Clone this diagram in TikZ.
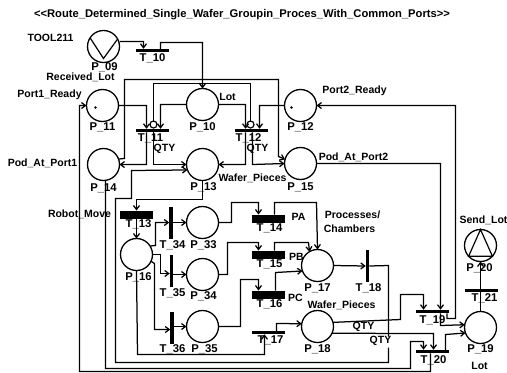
\documentclass[tikz,border=0pt]{standalone}
\usepackage{fontspec}
\setmainfont{Liberation Sans}
\usetikzlibrary{arrows.meta}
\tikzset{
  place/.style={circle,draw,line width=1.3bp,minimum size=32bp,inner sep=0pt,outer sep=0pt},
  token/.style={circle,fill=black,minimum size=2.6bp,inner sep=0pt},
  inhib/.style={circle,draw,line width=1.2bp,fill=white,minimum size=7bp,inner sep=0pt,outer sep=0pt},
  hbarthin/.style={rectangle,fill=black,minimum width=33bp,minimum height=3.5bp,inner sep=0pt,outer sep=0pt},
  hbarthick/.style={rectangle,fill=black,minimum width=33bp,minimum height=8bp,inner sep=0pt,outer sep=0pt},
  vbar/.style={rectangle,fill=black,minimum width=3.5bp,minimum height=32bp,inner sep=0pt,outer sep=0pt},
  lab/.style={font=\bfseries\fontsize{10.5bp}{12bp}\selectfont,inner sep=0pt,text=black},
  tlab/.style={font=\bfseries\fontsize{11.3bp}{12bp}\selectfont,inner sep=0pt,text=black},
  flow/.style={draw,line width=1.25bp,-{Straight Barb[length=4bp,width=6bp]}},
  plain/.style={draw,line width=1.25bp},
  sym/.style={draw,line width=1.2bp}
}
\begin{document}
\begin{tikzpicture}[x=1bp,y=-1bp]
\useasboundingbox[fill=white] (-.5,-.5) rectangle (506.5,371.5);
% places
\node[place] (P09) at (103,46) {};
\node[place] (P10) at (202,104) {};
\node[place] (P11) at (102,105) {};
\node[place] (P12) at (300,105) {};
\node[place] (P13) at (202,164) {};
\node[place] (P14) at (103,164) {};
\node[place] (P15) at (300,163) {};
\node[place] (P16) at (136,254) {};
\node[place] (P17) at (317,265) {};
\node[place] (P18) at (317,326) {};
\node[place] (P19) at (480,327) {};
\node[place] (P20) at (480,245) {};
\node[place] (P33) at (202,222) {};
\node[place] (P34) at (202,274) {};
\node[place] (P35) at (202,326) {};
\node[token] (tk11) at (95,107) {};
\node[token] (tk12) at (291,107) {};
% transitions
\node[hbarthin] (T10) at (152,50) {};
\node[hbarthin] (T11) at (151.5,130) {};
\node[hbarthin] (T12) at (250.5,130) {};
\node[hbarthick] (T13) at (136,214) {};
\node[hbarthick] (T14) at (268,218) {};
\node[hbarthick] (T15) at (268,254) {};
\node[hbarthick] (T16) at (268,294) {};
\node[hbarthin] (T17) at (268,332) {};
\node[vbar] (T18) at (367,265.5) {};
\node[hbarthin] (T19) at (431.5,311) {};
\node[hbarthin] (T20) at (431.5,351) {};
\node[hbarthin] (T21) at (481,290) {};
\node[vbar] (T34) at (170.5,222) {};
\node[vbar] (T35) at (171,270) {};
\node[vbar] (T36) at (171.5,327) {};
\node[inhib] (I11) at (153,124) {};
\node[inhib] (I12) at (250,124) {};
% symbols inside sources and sinks
\draw[sym] (P09.147) -- ([yshift=4bp]P09.south) -- (P09.28);
\draw[sym] (P20.north) -- (P20.222) -- (P20.318) -- cycle;
% connectors
\path[flow] (P09.east |- 0,41) -- (143,41) -- ([xshift=-9bp]T10.north);
\path[flow] ([xshift=8bp]T10.north) -- (160,42) -- (202,42) -- (P10.north);
\path[flow] (P11.east) -- (146,105) -- ([xshift=-5.5bp]T11.north);
\path[flow] (P10.west) -- (160,104) -- ([xshift=8.5bp]T11.north);
\path[flow] (P10.east) -- (245,104) -- ([xshift=-5.5bp]T12.north);
\path[flow] (P12.west) -- (259,105) -- ([xshift=8.5bp]T12.north);
\path[plain] (I11.north) -- (153,83) -- (250,83) -- (I12.north);
\path[flow] ([xshift=-5.5bp]T11.south) -- (146,164) -- (P14.east);
\path[flow] ([xshift=1.5bp]T11.south) -- (153,164) -- (P13.west);
\path[flow] ([xshift=-5.5bp]T12.south) -- (245,164) -- (P13.east);
\path[flow] ([xshift=1.5bp]T12.south) -- (252,164) -- (P15.west);
\path[flow] (P14.20) -- (124,158) -- (124,79) -- (278,79) -- (278,156) -- (P15.165);
\path[flow] (P13.south) -- (202,199) -- (136,199) -- (T13.north);
\path[flow] (T13.south) -- (P16.north);
\path[flow] (P16.32) -- (155,245) -- (155,222) -- (T34.west);
\path[flow] (P16.east) -- (160,254) -- (160,273) -- (T35.west |- 0,273);
\path[flow] (P16.-25) -- (154,263) -- (154,329) -- (T36.west |- 0,329);
\path[flow] (T34.east) -- (P33.west);
\path[flow] (T35.east |- 0,274) -- (P34.west);
\path[flow] (T36.east |- 0,326) -- (P35.west);
\path[flow] (P33.east) -- (231,222) -- (231,202) -- (258,202) -- ([xshift=-10bp]T14.north);
\path[flow] (P34.east) -- (227,274) -- (227,242) -- (258,242) -- ([xshift=-10bp]T15.north);
\path[flow] (P35.east) -- (240,326) -- (240,279) -- (258,279) -- ([xshift=-10bp]T16.north);
\path[flow] ([xshift=6bp]T14.north) -- (274,202) -- (316,202) -- (P17.north);
\path[flow] ([xshift=6bp]T15.north) -- (274,242) -- (308,242) -- (P17.120);
\path[flow] ([xshift=7bp]T16.north) -- (275,272) -- (P17.200);
\path[flow] (P16.south) -- (137,354) -- (264,354) -- ([xshift=-4bp]T17.south);
\path[flow] ([xshift=8bp]T17.north) -- (276,323) -- (P18.170);
\path[flow] (P17.east) -- (T18.west);
\path[flow] (T18.east) -- (388,265) -- (388,336) (388,347) -- (388,362) -- (115,362) -- (115,198) -- (131,198) -- (131,170) -- (P13.200);
\path[flow] (P18.15) -- (400,319) -- (400,294) -- (423,294) -- ([xshift=-8.5bp]T19.north);
\path[flow] (P18.-25) -- (433,333) -- ([xshift=1.5bp]T20.north);
\path[flow] (P15.east) -- (440,163) -- ([xshift=8.5bp]T19.north);
\path[flow] ([xshift=15bp]T19.south) -- (446.5,318) -- (455,318) -- (455,105) -- (P12.east);
\path[flow] ([xshift=8.5bp]T19.south) -- (440,325) -- (P19.170);
\path[flow] ([xshift=13.5bp]T20.north) -- (445,334) -- (P19.200);
\path[flow] ([xshift=2bp]P14.south) -- (105,368) -- (410,368) -- (410,341) -- (423,341) -- ([xshift=-8.5bp]T20.north);
\path[flow] ([xshift=-1.5bp]T20.south) -- (430,371) -- (79,371) -- (79,105) -- (P11.west);
\path[plain] (P19.north) -- ([xshift=-1bp]T21.south);
\path[flow] ([xshift=-1bp]T21.north) -- (P20.south);
% labels
\node[lab,font=\bfseries\fontsize{11.2bp}{12bp}\selectfont] (title) at (241.5,14) {{<}{<}Route\_Determined\_Single\_Wafer\_Groupin\_Proces\_With\_Common\_Ports{>}{>}};
\node[lab] (l1) at (50,37) {TOOL211};
\node[tlab] (l2) at (104,67) {P\_09};
\node[tlab] (l3) at (152,58) {T\_10};
\node[lab] (l4) at (80,77) {Received\_Lot};
\node[lab] (l5) at (49,94) {Port1\_Ready};
\node[tlab] (l6) at (102,127) {P\_11};
\node[tlab] (l7) at (202,127) {P\_10};
\node[lab] (l8) at (227,96) {Lot};
\node[tlab] (l9) at (300,127) {P\_12};
\node[lab] (l10) at (354,90) {Port2\_Ready};
\node[lab] (l11) at (42,163) {Pod\_At\_Port1};
\node[lab] (l12) at (353,157) {Pod\_At\_Port2};
\node[tlab] (l13) at (150,138) {T\_11};
\node[tlab] (l14) at (248,138) {T\_12};
\node[lab] (l15) at (164,148) {QTY};
\node[lab] (l16) at (257,148) {QTY};
\node[lab] (l17) at (252,178) {Wafer\_Pieces};
\node[tlab] (l18) at (203,187) {P\_13};
\node[tlab] (l19) at (103,188) {P\_14};
\node[tlab] (l20) at (300,187) {P\_15};
\node[lab] (l21) at (79,214) {Robot\_Move};
\node[tlab] (l22) at (138,224) {T\_13};
\node[tlab] (l23) at (138,277) {P\_16};
\node[tlab] (l24) at (172,245) {T\_34};
\node[tlab] (l25) at (203,245) {P\_33};
\node[tlab] (l26) at (172,293) {T\_35};
\node[tlab] (l27) at (203,296) {P\_34};
\node[tlab] (l28) at (172,349) {T\_36};
\node[tlab] (l29) at (204,349) {P\_35};
\node[tlab] (l30) at (269,228) {T\_14};
\node[tlab] (l31) at (269,264) {T\_15};
\node[tlab] (l32) at (269,304) {T\_16};
\node[tlab] (l33) at (270,340) {T\_17};
\node[lab] (l34) at (298,216) {PA};
\node[lab] (l35) at (296,256) {PB};
\node[lab] (l36) at (295,297) {PC};
\node[lab] (l37) at (352,214) {Processes/};
\node[lab] (l38) at (349,228) {Chambers};
\node[tlab] (l39) at (317,288) {P\_17};
\node[tlab] (l40) at (368,288) {T\_18};
\node[lab] (l41) at (341,305) {Wafer\_Pieces};
\node[tlab] (l42) at (317,349) {P\_18};
\node[lab] (l43) at (363,326) {QTY};
\node[lab] (l44) at (380,340) {QTY};
\node[tlab] (l45) at (432,320) {T\_19};
\node[tlab] (l46) at (433,360) {T\_20};
\node[tlab] (l47) at (484,298) {T\_21};
\node[tlab] (l48) at (480,349) {P\_19};
\node[lab] (l49) at (479,365) {Lot};
\node[tlab] (l50) at (479,268) {P\_20};
\node[lab] (l51) at (483,220) {Send\_Lot};
\end{tikzpicture}
\end{document}
